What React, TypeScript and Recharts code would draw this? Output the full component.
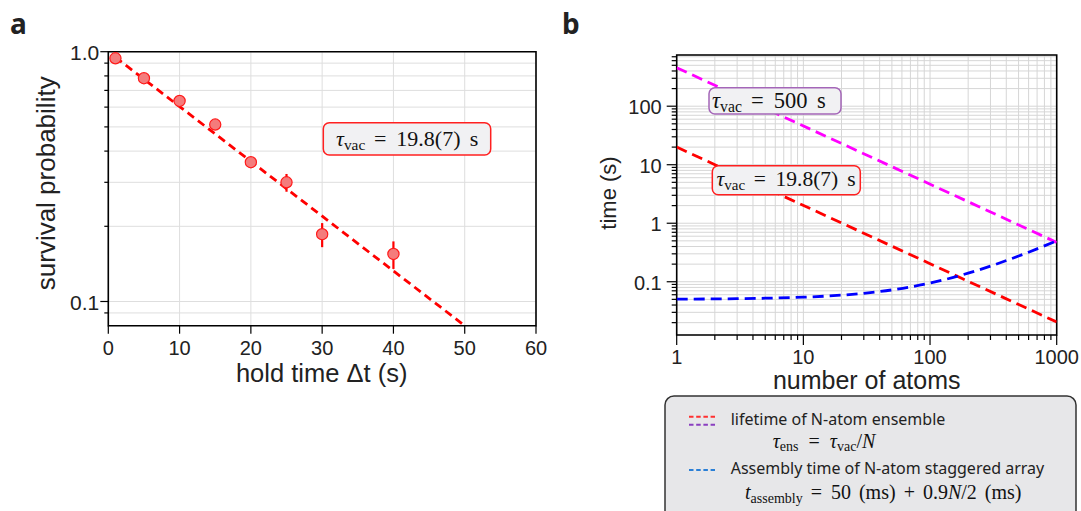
import React from 'react'
import {
  ComposedChart, LineChart, Line, Scatter, ErrorBar, XAxis, YAxis,
  CartesianGrid, ReferenceArea,
} from 'recharts'

// panel a: survival probability vs hold time
const holdTimes = [1, 5, 10, 15, 20, 25, 30, 40]
const survival = [0.941, 0.783, 0.635, 0.511, 0.361, 0.3, 0.186, 0.155]
const errLow = [0.01, 0.01, 0.012, 0.012, 0.016, 0.025, 0.021, 0.02]
const errHigh = [0.01, 0.01, 0.012, 0.012, 0.016, 0.024, 0.02, 0.019]
const fitTimes = [1, 50]
const fitSurvival = [0.95, 0.08]

const holdTicks = [0, 10, 20, 30, 40, 50, 60]
const survivalTicks = [0.09, 0.1, 0.2, 0.3, 0.4, 0.5, 0.6, 0.7, 0.8, 0.9, 1.0]
const survivalLabels: [number, string][] = [[0.1, '0.1'], [1, '1.0']]

// panel b: lifetime / assembly time vs number of atoms
const redAtoms = [1, 1000]
const redTime = [20, 0.0205]
const magentaAtoms = [1, 1000]
const magentaTime = [455, 0.47]
const blueAtoms = [1, 2, 3, 5, 10, 20, 30, 50, 100, 200, 300, 500, 700, 1000]
const blueTime = [0.0505, 0.0509, 0.0514, 0.0523, 0.0545, 0.059, 0.0635, 0.0725, 0.095, 0.14, 0.185, 0.275, 0.365, 0.5]

const atomTicks = [
  1, 2, 3, 4, 5, 6, 7, 8, 9,
  10, 20, 30, 40, 50, 60, 70, 80, 90,
  100, 200, 300, 400, 500, 600, 700, 800, 900, 1000,
]
const atomLabels: [number, string][] = [[1, '1'], [10, '10'], [100, '100'], [1000, '1000']]
const timeTicks = [
  0.02, 0.03, 0.04, 0.05, 0.06, 0.07, 0.08, 0.09,
  0.1, 0.2, 0.3, 0.4, 0.5, 0.6, 0.7, 0.8, 0.9,
  1, 2, 3, 4, 5, 6, 7, 8, 9,
  10, 20, 30, 40, 50, 60, 70, 80, 90,
  100, 200, 300, 400, 500, 600, 700,
]
const timeLabels: [number, string][] = [[0.1, '0.1'], [1, '1'], [10, '10'], [100, '100']]

const SANS = '"Liberation Sans", Arial, sans-serif'
const SERIF = '"Liberation Serif", "Times New Roman", serif'
const LEGEND_SANS = '"Noto Sans", "Open Sans", sans-serif'

interface TickOpts {
  side: 'left' | 'bottom'
  labels: [number, string][]
  major: number
  minor: number
  pad: number
  size: number
}

function makeTick(o: TickOpts) {
  return (props: any) => {
    const { x, y, payload } = props
    const v = payload.value
    const hit = o.labels.find(([m]) => Math.abs(m - v) <= Math.abs(m) * 1e-6)
    const len = hit ? o.major : o.minor
    if (o.side === 'left') {
      return (
        <g>
          <line x1={x} x2={x - len} y1={y} y2={y} stroke="#000" strokeWidth={1.2} />
          {hit && (
            <text x={x - len - o.pad} y={y + 1} textAnchor="end" dominantBaseline="central"
              fontSize={o.size} fontFamily={SANS} fill="#222">{hit[1]}</text>
          )}
        </g>
      )
    }
    return (
      <g>
        <line x1={x} x2={x} y1={y} y2={y + len} stroke="#000" strokeWidth={1.2} />
        {hit && (
          <text x={x} y={y + o.pad} textAnchor="middle" dominantBaseline="central"
            fontSize={o.size} fontFamily={SANS} fill="#222">{hit[1]}</text>
        )}
      </g>
    )
  }
}

// tau_vac = value s, spaced roughly like the TeX rendering
function TauVac({ x, y, size, value }: { x: number; y: number; size: number; value: string }) {
  return (
    <text x={x} y={y} fontFamily={SERIF} fontSize={size} fill="#111">
      <tspan fontStyle="italic">τ</tspan>
      <tspan fontSize={size * 0.7} dy={size * 0.17}>vac</tspan>
      <tspan dy={-size * 0.17} dx={size * 0.4}>=</tspan>
      <tspan dx={size * 0.45}>{value}</tspan>
      <tspan dx={size * 0.42}>s</tspan>
    </text>
  )
}

function PanelA() {
  const points = holdTimes.map((t, i) => ({ t, p: survival[i], err: [errLow[i], errHigh[i]] }))
  const fit = fitTimes.map((t, i) => ({ t, p: fitSurvival[i] }))
  return (
    <ComposedChart width={560} height={400}
      margin={{ top: 51.7, right: 24, bottom: 34.3, left: 48.3 }}>
      <CartesianGrid stroke="#dedede" strokeWidth={1} />
      <XAxis type="number" dataKey="t" domain={[0, 60]} ticks={holdTicks} interval={0}
        allowDataOverflow axisLine={false} tickSize={0} tickMargin={0} height={40}
        tick={makeTick({ side: 'bottom', labels: holdTicks.map((v) => [v, String(v)] as [number, string]), major: 8, minor: 8, pad: 22, size: 20 })} />
      <YAxis type="number" dataKey="p" scale="log" domain={[0.08, 1]} ticks={survivalTicks}
        interval={0} allowDataOverflow axisLine={false} tickSize={0} tickMargin={0} width={60}
        tick={makeTick({ side: 'left', labels: survivalLabels, major: 8, minor: 4, pad: 1, size: 21 })} />
      <Line data={fit} dataKey="p" stroke="#ff0000" strokeWidth={2.8} strokeDasharray="8 5"
        dot={false} isAnimationActive={false} />
      <Scatter data={points} dataKey="p" isAnimationActive={false}
        shape={(s: any) => (
          <circle cx={s.cx} cy={s.cy} r={5.6} fill="#f47c7c" stroke="#ff1a1a" strokeWidth={1.2} />
        )}>
        <ErrorBar dataKey="err" direction="y" width={0} stroke="#ff0000" strokeWidth={2.2} />
      </Scatter>
      <ReferenceArea x1={0} x2={60} y1={0.08} y2={1} fill="none" stroke="#000"
        strokeWidth={1.6} ifOverflow="visible" />
    </ComposedChart>
  )
}

function PanelB() {
  const red = redAtoms.map((n, i) => ({ n, y: redTime[i] }))
  const magenta = magentaAtoms.map((n, i) => ({ n, y: magentaTime[i] }))
  const blue = blueAtoms.map((n, i) => ({ n, y: blueTime[i] }))
  return (
    <LineChart width={521} height={400}
      margin={{ top: 55, right: 24.3, bottom: 25, left: 56.7 }}>
      <CartesianGrid stroke="#d6d6d6" strokeWidth={1} />
      <XAxis type="number" dataKey="n" scale="log" domain={[1, 1000]} ticks={atomTicks}
        interval={0} allowDataOverflow axisLine={false} tickSize={0} tickMargin={0} height={40}
        tick={makeTick({ side: 'bottom', labels: atomLabels, major: 10, minor: 5, pad: 21.5, size: 20 })} />
      <YAxis type="number" dataKey="y" scale="log" domain={[0.0123, 750]} ticks={timeTicks}
        interval={0} allowDataOverflow axisLine={false} tickSize={0} tickMargin={0} width={60}
        tick={makeTick({ side: 'left', labels: timeLabels, major: 10, minor: 5, pad: 5, size: 20 })} />
      <Line data={red} dataKey="y" stroke="#ff0000" strokeWidth={2.8} strokeDasharray="11 6"
        dot={false} isAnimationActive={false} />
      <Line data={magenta} dataKey="y" stroke="#ff00ff" strokeWidth={2.8} strokeDasharray="11 6"
        dot={false} isAnimationActive={false} />
      <Line data={blue} dataKey="y" stroke="#0000ff" strokeWidth={2.8} strokeDasharray="11 6"
        dot={false} isAnimationActive={false} type="monotone" />
      <ReferenceArea x1={1} x2={1000} y1={0.0123} y2={750} fill="none" stroke="#000"
        strokeWidth={1.6} ifOverflow="visible" />
    </LineChart>
  )
}

function Overlay() {
  return (
    <svg width={1081} height={511} style={{ position: 'absolute', left: 0, top: 0, pointerEvents: 'none' }}>
      <text x={10} y={34} fontFamily={LEGEND_SANS} fontWeight={700} fontSize={28} fill="#222">a</text>
      <text x={562} y={34} fontFamily={LEGEND_SANS} fontWeight={700} fontSize={28} fill="#222">b</text>

      {/* axis titles */}
      <text x={46} y={183.3} transform="rotate(-90 46 183.3)" textAnchor="middle"
        dominantBaseline="central" fontFamily={SANS} fontSize={26} fill="#222">survival probability</text>
      <text x={321.7} y={382} textAnchor="middle" fontFamily={SANS} fontSize={25.5} fill="#222">hold time Δt (s)</text>
      <text x={608.5} y={193} transform="rotate(-90 608.5 193)" textAnchor="middle"
        dominantBaseline="central" fontFamily={SANS} fontSize={22} fill="#222">time (s)</text>
      <text x={866.7} y={388.5} textAnchor="middle" fontFamily={SANS} fontSize={25} fill="#222">number of atoms</text>

      {/* annotation boxes */}
      <rect x={323.3} y={122.7} width={167.4} height={32.3} rx={6} fill="#f1f1f3" stroke="#ff2020" strokeWidth={1.5} />
      <TauVac x={336} y={146} size={22} value="19.8(7)" />
      <rect x={709} y={87.7} width={132} height={26.3} rx={6} fill="#f1f1f3" stroke="#a466b8" strokeWidth={1.5} />
      <TauVac x={712} y={108.3} size={22.5} value="500" />
      <rect x={712.3} y={165.7} width={148} height={29} rx={6} fill="#f1f1f3" stroke="#ff2020" strokeWidth={1.5} />
      <TauVac x={716.5} y={186} size={21.5} value="19.8(7)" />

      {/* legend */}
      <rect x={665} y={396} width={411} height={130} rx={9} fill="#e7e7e9" stroke="#333" strokeWidth={1.5} />
      <line x1={689} x2={715} y1={416.7} y2={416.7} stroke="#ff3030" strokeWidth={2} strokeDasharray="4.5 2.7" />
      <line x1={689} x2={715} y1={424.7} y2={424.7} stroke="#8a3fc0" strokeWidth={2} strokeDasharray="4.5 2.7" />
      <text x={730.7} y={425} fontFamily={LEGEND_SANS} fontSize={16} fill="#222">lifetime of N-atom ensemble</text>
      <text x={772.7} y={447.5} fontFamily={SERIF} fontSize={20} fill="#111">
        <tspan fontStyle="italic">τ</tspan>
        <tspan fontSize={14} dy={3.5}>ens</tspan>
        <tspan dy={-3.5} dx={10}>=</tspan>
        <tspan dx={10} fontStyle="italic">τ</tspan>
        <tspan fontSize={14} dy={3.5}>vac</tspan>
        <tspan dy={-3.5}>/</tspan>
        <tspan fontStyle="italic">N</tspan>
      </text>
      <line x1={689} x2={715} y1={470} y2={470} stroke="#2a7fd6" strokeWidth={2} strokeDasharray="4.5 2.7" />
      <text x={730.7} y={473.5} fontFamily={LEGEND_SANS} fontSize={16} fill="#222">Assembly time of N-atom staggered array</text>
      <text x={745} y={499} fontFamily={SERIF} fontSize={20} fill="#111">
        <tspan fontStyle="italic">t</tspan>
        <tspan fontSize={14} dy={3.5}>assembly</tspan>
        <tspan dy={-3.5} dx={8}>=</tspan>
        <tspan dx={9}>50</tspan>
        <tspan dx={8}>(ms)</tspan>
        <tspan dx={8}>+</tspan>
        <tspan dx={8}>0.9</tspan>
        <tspan fontStyle="italic">N</tspan>
        <tspan>/2</tspan>
        <tspan dx={8}>(ms)</tspan>
      </text>
    </svg>
  )
}

export default function App() {
  return (
    <div style={{ position: 'absolute', left: 0, top: 0, width: 1081, height: 511, overflow: 'hidden', background: '#fff' }}>
      <div style={{ position: 'absolute', left: 0, top: 0 }}>
        <PanelA />
      </div>
      <div style={{ position: 'absolute', left: 560, top: 0 }}>
        <PanelB />
      </div>
      <Overlay />
    </div>
  )
}
